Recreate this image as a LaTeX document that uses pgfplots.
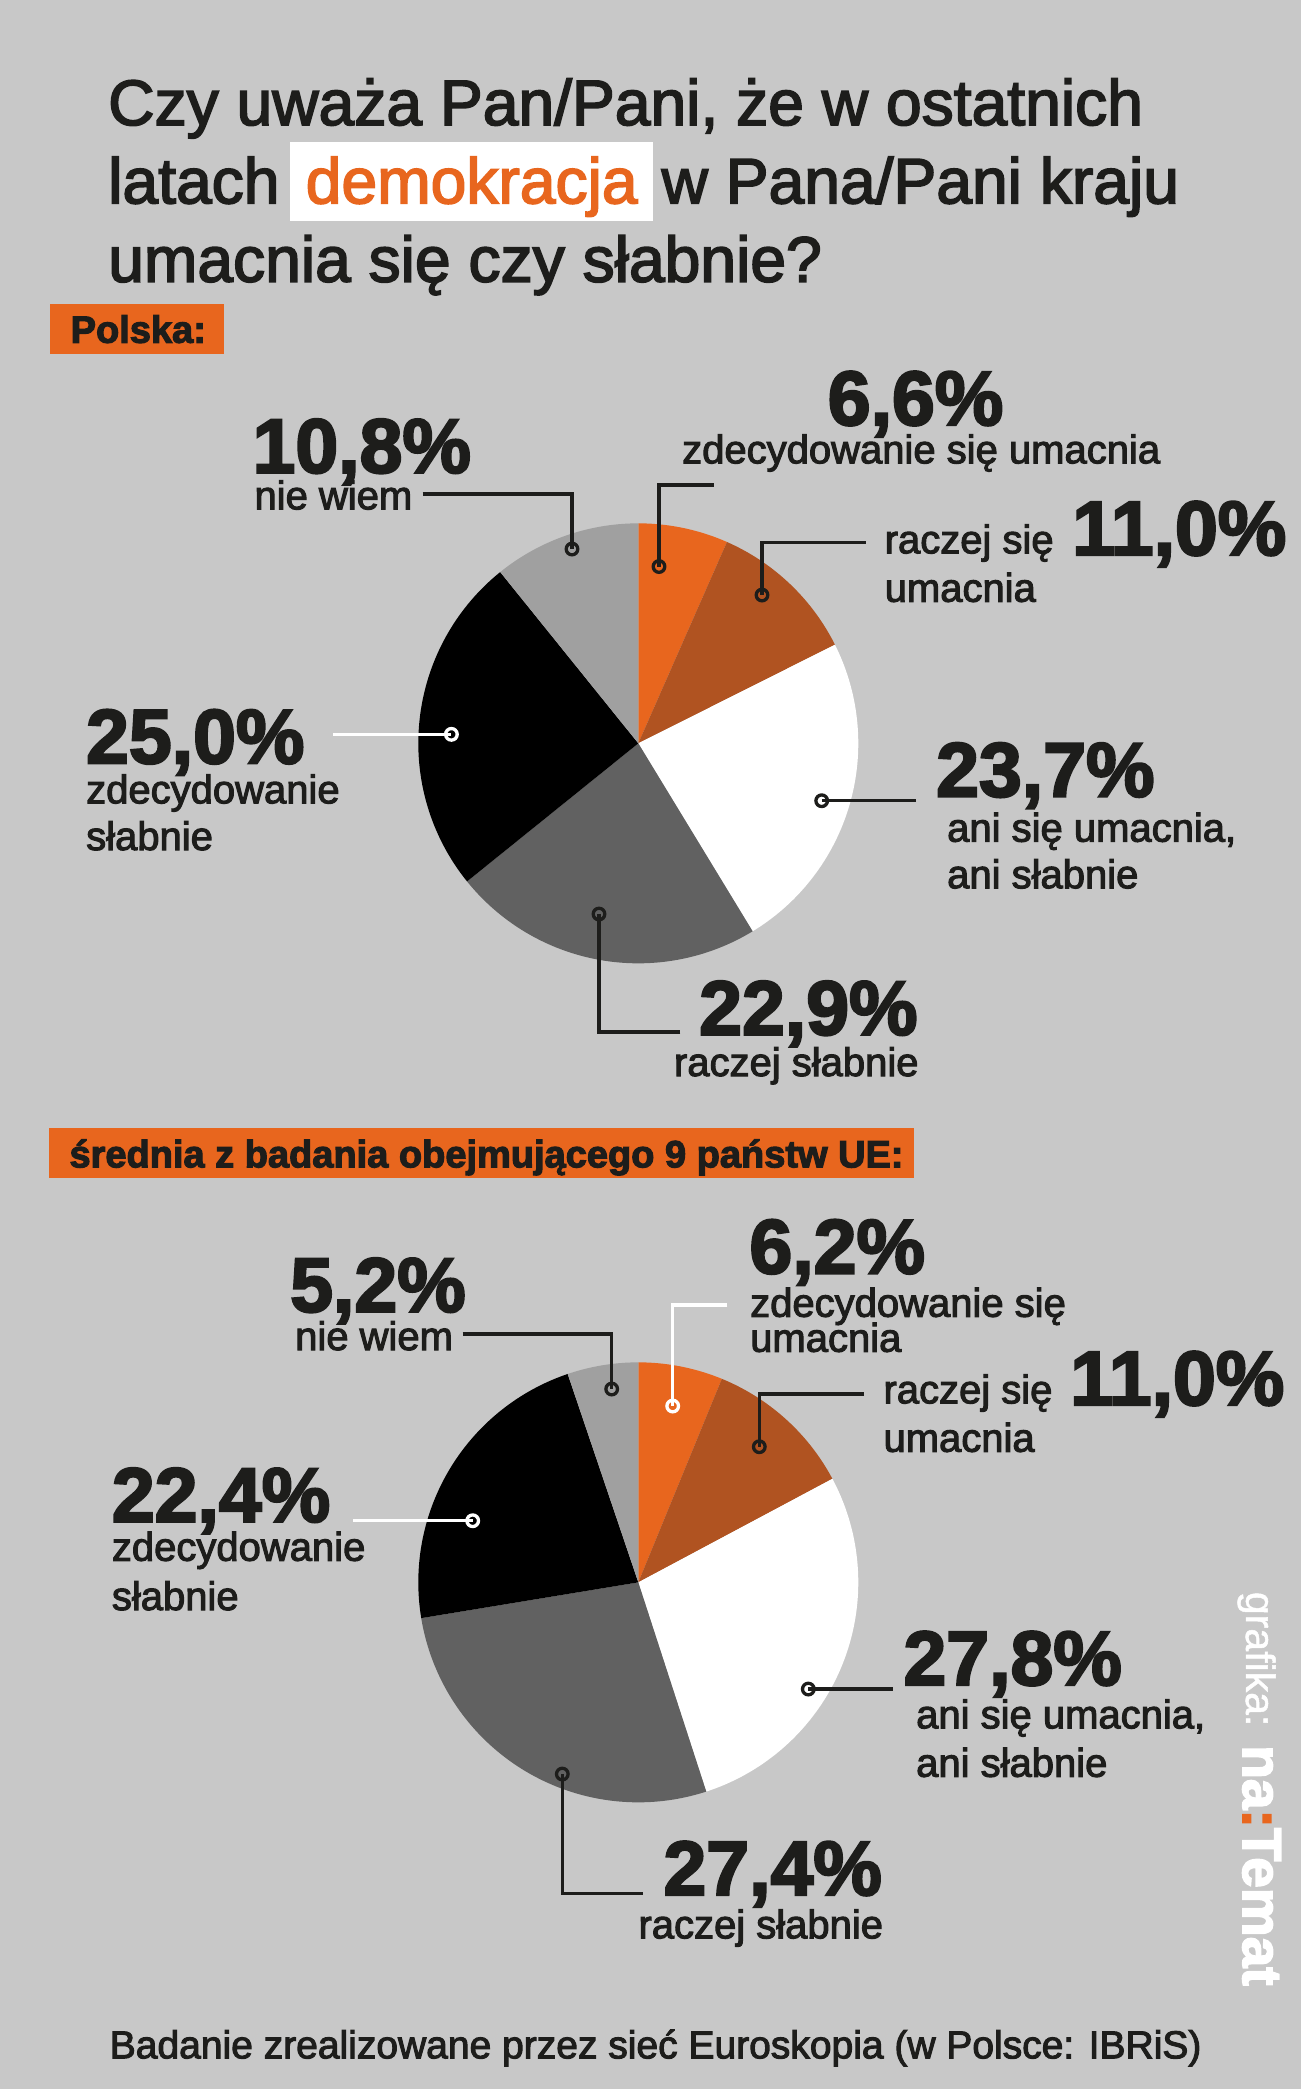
\documentclass[border=0pt]{standalone}
\usepackage{fontspec}
\usepackage{pgfplots}
\pgfplotsset{compat=1.18}
\setmainfont{Liberation Sans}
\newfontfamily\medf{Liberation Sans}[FakeBold=2.6]
\newfontfamily\regf{Liberation Sans}[FakeBold=1.2]
\newfontfamily\boldf{Liberation Sans Bold}[FakeBold=3]
\definecolor{bg}{HTML}{C8C8C8}
\definecolor{orA}{HTML}{E8661E}
\definecolor{orB}{HTML}{B05321}
\definecolor{grD}{HTML}{616161}
\definecolor{grL}{HTML}{A0A0A0}
\definecolor{txt}{HTML}{1D1D1B}
% slice: centre x, centre y, start %, end %, colour (clockwise from 12 o'clock)
\newcommand{\slice}[5]{\addplot[draw=none, fill=#5, domain=#3:#4, samples=120, variable=\t]
  ({#1+220*cos(90-3.6*\t)}, {#2-220*sin(90-3.6*\t)}) -- (axis cs:#1,#2) -- cycle;}
\newcommand{\lead}[3]{\addplot[#1, line width=3.3pt, mark=none] coordinates {#2};
  \addplot[#1, line width=3.3pt, only marks, mark=o, mark size=5.8pt] coordinates {#3};}
\newcommand{\lbl}[3]{\node[anchor=base west, inner sep=0pt, text=txt, font=\medf\fontsize{40}{40}\selectfont] at (axis cs:#1,#2) {#3};}
\newcommand{\num}[3]{\node[anchor=base west, inner sep=0pt, text depth=0pt, text=txt, font=\boldf\fontsize{77}{77}\selectfont] at (axis cs:#1,#2) {#3};}
\newcommand{\ttl}[3]{\node[anchor=base west, inner sep=0pt, text=txt, font=\medf\fontsize{64.2}{64.2}\selectfont] at (axis cs:#1,#2) {#3};}
\begin{document}
\begin{tikzpicture}
\begin{axis}[at={(0pt,0pt)}, anchor=north west, scale only axis, width=1301pt, height=2089pt,
  xmin=0, xmax=1301, ymin=0, ymax=2089, y dir=reverse, hide axis, clip=false]
\fill[bg] (axis cs:0,0) rectangle (axis cs:1301,2089);
% ---------- title ----------
\ttl{108}{125}{Czy uważa Pan/Pani, że w ostatnich}
\ttl{108}{203.3}{latach}
\fill[white] (axis cs:290.4,141.7) rectangle (axis cs:653,220.7);
\node[anchor=base, inner sep=0pt, text=orA, font=\medf\fontsize{64.2}{64.2}\selectfont] at (axis cs:471.7,203.3) {demokracja};
\ttl{661.4}{203.3}{w Pana/Pani kraju}
\ttl{108}{281.7}{umacnia się czy słabnie?}
% ---------- Polska ----------
\fill[orA] (axis cs:49.8,304) rectangle (axis cs:224,354);
\node[anchor=base west, inner sep=0pt, text=txt, font=\boldf\fontsize{38}{38}\selectfont] at (axis cs:70.5,342.7) {Polska:};
% pie 1 (values in %: 6.6, 11.0, 23.7, 22.9, 25.0, 10.8)
\slice{638.3}{743.3}{0}{6.6}{orA}
\slice{638.3}{743.3}{6.6}{17.6}{orB}
\slice{638.3}{743.3}{17.6}{41.3}{white}
\slice{638.3}{743.3}{41.3}{64.2}{grD}
\slice{638.3}{743.3}{64.2}{89.2}{black}
\slice{638.3}{743.3}{89.2}{100}{grL}
\lead{txt}{(713.8,485) (659,485) (659,566.5)}{(659,566.5)}
\lead{txt}{(865.5,542.5) (762,542.5) (762,595)}{(762,595)}
\lead{txt}{(916,800.7) (821.7,800.7)}{(821.7,800.7)}
\lead{txt}{(680.4,1032) (599,1032) (599,914)}{(599,914)}
\lead{white}{(332.8,734.3) (451.4,734.3)}{(451.4,734.3)}
\lead{txt}{(422.7,494) (572,494) (572,549)}{(572,549)}
\num{827.6}{425}{6,6\%}
\lbl{682}{463.3}{zdecydowanie się umacnia}
\lbl{884.5}{553.3}{raczej się}
\lbl{884.5}{601.7}{umacnia}
\num{1072}{555}{11,0\%}
\num{936}{796.5}{23,7\%}
\lbl{947}{841.6}{ani się umacnia,}
\lbl{947}{888.2}{ani słabnie}
\num{699}{1034.7}{22,9\%}
\lbl{673.8}{1076}{raczej słabnie}
\num{85.9}{763.3}{25,0\%}
\lbl{86}{803.3}{zdecydowanie}
\lbl{86}{850}{słabnie}
\num{252.4}{472.7}{10,8\%}
\lbl{254.3}{509.3}{nie wiem}
% ---------- EU average ----------
\fill[orA] (axis cs:49.3,1128.3) rectangle (axis cs:913.5,1178.3);
\node[anchor=base west, inner sep=0pt, text=txt, font=\boldf\fontsize{38}{38}\selectfont] at (axis cs:69.3,1167.3) {średnia z badania obejmującego 9 państw UE:};
% pie 2 (values in %: 6.2, 11.0, 27.8, 27.4, 22.4, 5.2)
\slice{638.3}{1582.3}{0}{6.2}{orA}
\slice{638.3}{1582.3}{6.2}{17.2}{orB}
\slice{638.3}{1582.3}{17.2}{45.0}{white}
\slice{638.3}{1582.3}{45.0}{72.4}{grD}
\slice{638.3}{1582.3}{72.4}{94.8}{black}
\slice{638.3}{1582.3}{94.8}{100}{grL}
\lead{white}{(727.3,1305) (672.7,1305) (672.7,1406)}{(672.7,1406)}
\lead{txt}{(864,1394) (759.3,1394) (759.3,1446.7)}{(759.3,1446.7)}
\lead{txt}{(892.7,1689) (808.3,1689)}{(808.3,1689)}
\lead{txt}{(642.7,1893.3) (562.3,1893.3) (562.3,1774)}{(562.3,1774)}
\lead{white}{(353.3,1520.7) (472.7,1520.7)}{(472.7,1520.7)}
\lead{txt}{(462.7,1334) (611.7,1334) (611.7,1389)}{(611.7,1389)}
\num{749.3}{1273.3}{6,2\%}
\lbl{750}{1316.7}{zdecydowanie się}
\lbl{750}{1351.7}{umacnia}
\lbl{883.3}{1403.3}{raczej się}
\lbl{883.3}{1451.7}{umacnia}
\num{1070}{1405}{11,0\%}
\num{903.3}{1685}{27,8\%}
\lbl{916}{1728.3}{ani się umacnia,}
\lbl{916}{1776.7}{ani słabnie}
\num{663.3}{1895}{27,4\%}
\lbl{638.3}{1938.3}{raczej słabnie}
\num{111.7}{1521.7}{22,4\%}
\lbl{111.7}{1560.7}{zdecydowanie}
\lbl{111.7}{1610}{słabnie}
\num{290}{1311.7}{5,2\%}
\lbl{295}{1350}{nie wiem}
% ---------- footer & credit ----------
\node[anchor=base west, inner sep=0pt, text=txt, font=\medf\fontsize{39}{39}\selectfont] at (axis cs:109.6,2058.3) {Badanie zrealizowane przez sieć Euroskopia (w Polsce: IBRiS)};
\node[anchor=base west, rotate=-90, inner sep=0pt, text=white, font=\regf\fontsize{41}{41}\selectfont] at (axis cs:1246,1591.7) {grafika:};
\node[anchor=base west, rotate=-90, inner sep=0pt, text=white, font=\boldf\fontsize{55}{55}\selectfont] at (axis cs:1243,1745) {na\textcolor{orA}{:}Temat};
\end{axis}
\end{tikzpicture}
\end{document}
